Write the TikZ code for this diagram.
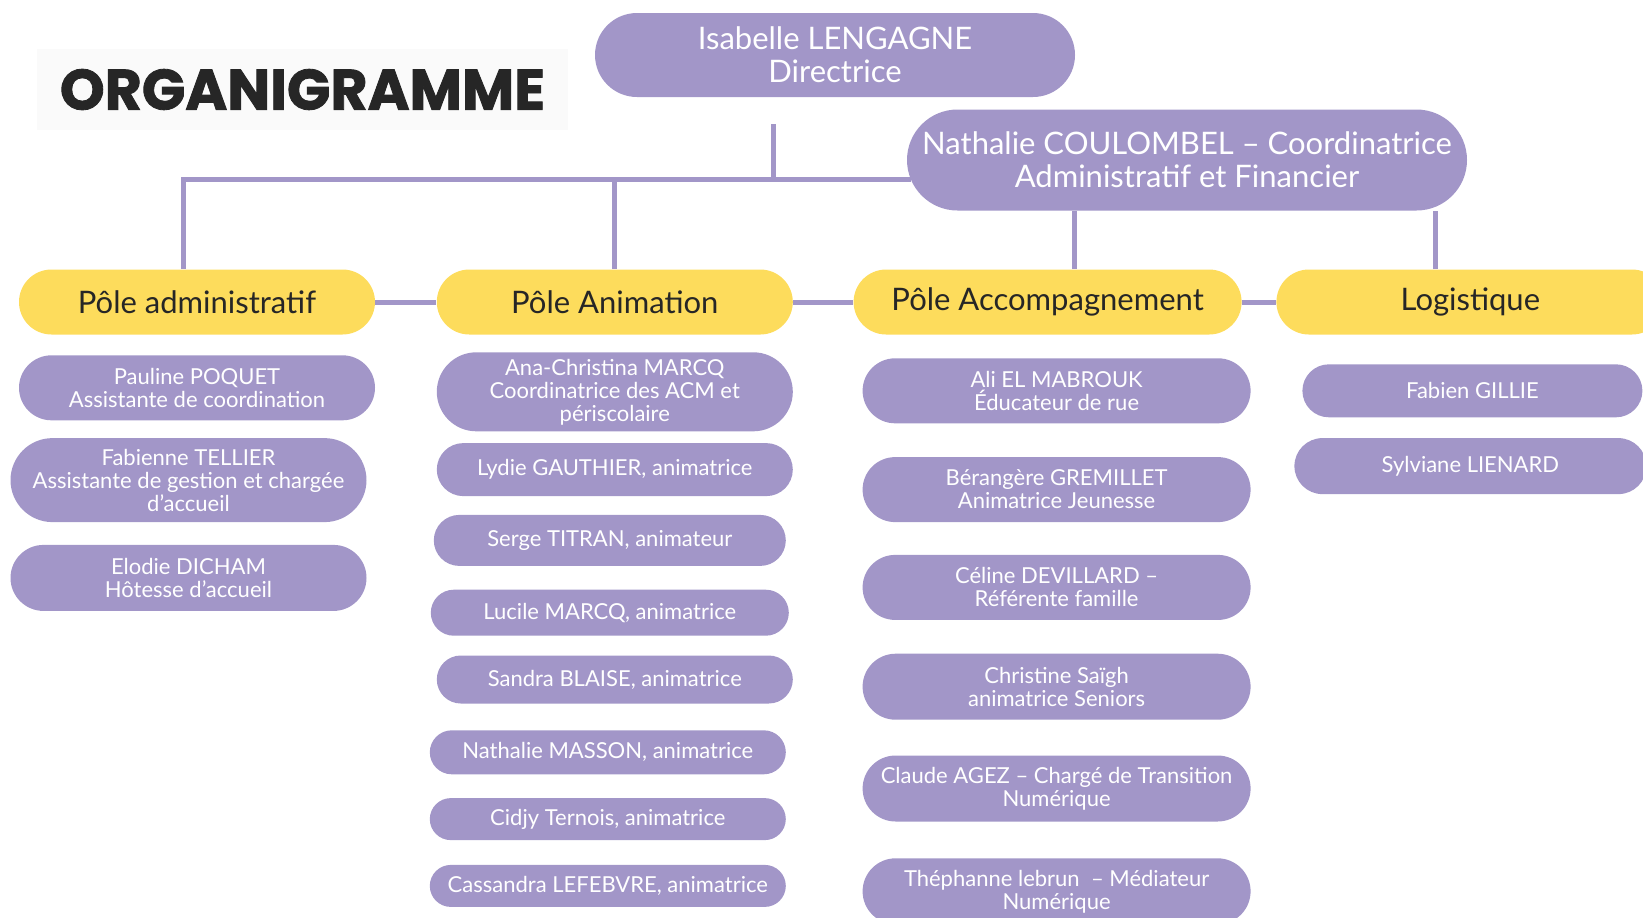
\documentclass[tikz,border=0pt]{standalone}
\usepackage{fontspec}
\setmainfont{Lato}
\newfontfamily\titlefont{Poppins}[BoldFeatures={FakeBold=1.5}]
\usepackage{xcolor}
\usetikzlibrary{positioning, shapes.misc}

\definecolor{lavande}{HTML}{A296C8}
\definecolor{jaune}{HTML}{FDDC5C}
\definecolor{encre}{HTML}{262626}

\tikzset{
  member/.style={rounded rectangle, fill=lavande, text=white, align=center, inner sep=0pt,
    minimum width=178pt, minimum height=#1, font=\fontsize{11}{11.5}\selectfont},
  member/.default=32.5pt,
  pole/.style={rounded rectangle, fill=jaune, text=encre, inner sep=0pt,
    minimum width=178pt, minimum height=32.5pt, font=\fontsize{15.5}{17}\selectfont},
  head/.style={rounded rectangle, fill=lavande, text=white, align=center, inner sep=0pt,
    font=\fontsize{15.5}{16.5}\selectfont},
  link/.style={draw=lavande, line width=2.5pt},
}

\begin{document}
\begin{tikzpicture}[x=0.5pt, y=-0.5pt]
    \useasboundingbox (0,0) rectangle (1643,917);
    \clip (0,0) rectangle (1643,917);

    \node [fill=black!2, minimum width=265.5pt, minimum height=40.5pt, text=encre,
      font=\titlefont\bfseries\fontsize{28.5}{28.5}\selectfont] (titre) at (302.5,89.5) {ORGANIGRAMME};

    \node [head, minimum width=240pt, minimum height=42pt] (isa) at (835,55) {Isabelle LENGAGNE\\Directrice};
    \node [head, minimum width=280pt, minimum height=50.5pt] (nat) at (1187,160) {Nathalie COULOMBEL – Coordinatrice\\Administratif et Financier};

    % les poles
    \node [pole] (pa) at (197,302) {Pôle administratif};
    \node [pole, right=30.5pt of pa] (pan) {Pôle Animation};
    \node [pole, minimum width=194pt, right=30pt of pan] (pac) {Pôle Accompagnement};
    \node [pole, minimum width=194pt, right=17pt of pac] (plog) {Logistique};

    % liaisons
    \coordinate (drop) at (773,124);
    \coordinate (bus) at (773,179);
    \draw [link] (drop) -- (bus);
    \draw [link] ([xshift=-7pt]pa.north) |- ([xshift=2pt]nat.west |- bus);
    \draw [link] (pan.north) -- (pan.north |- bus);
    \draw [link] ([xshift=13.5pt]pac.north) -- ([xshift=13.5pt]pac.north |- nat.south);
    \draw [link] ([xshift=-17.5pt]plog.north) -- ([xshift=-17.5pt]plog.north |- nat.south);
    \draw [link] (pa.east) -- (pan.west);
    \draw [link] (pan.east) -- (pac.west);
    \draw [link] (pac.east) -- (plog.west);

    % pole administratif
    \node [member, below=10pt of pa] (poquet) {Pauline POQUET\\Assistante de coordination};
    \node [member=42pt, below=8.5pt of poquet, xshift=-4.25pt] (tellier) {Fabienne TELLIER\\Assistante de gestion et chargée\\d’accueil};
    \node [member=33pt, below=11pt of tellier] (dicham) {Elodie DICHAM\\Hôtesse d’accueil};

    % pole animation
    \node [member=39.5pt, below=8.5pt of pan] (acmarcq) {Ana-Christina MARCQ\\Coordinatrice des ACM et\\périscolaire};
    \node [member=26.5pt, below=5.5pt of acmarcq] (gauthier) {Lydie GAUTHIER, animatrice};
    \node [member=25.5pt, minimum width=176pt, below=9pt of gauthier, xshift=-2.5pt] (titran) {Serge TITRAN, animateur};
    \node [member=23pt, minimum width=179pt, below=11.5pt of titran] (lmarcq) {Lucile MARCQ, animatrice};
    \node [member=24pt, below=9.5pt of lmarcq, xshift=2.5pt] (blaise) {Sandra BLAISE, animatrice};
    \node [member=22pt, below=13pt of blaise, xshift=-3.5pt] (masson) {Nathalie MASSON, animatrice};
    \node [member=21pt, below=11.5pt of masson] (ternois) {Cidjy Ternois, animatrice};
    \node [member=21pt, below=12pt of ternois] (lefebvre) {Cassandra LEFEBVRE, animatrice};

    % pole accompagnement
    \node [member, minimum width=194pt, below=11.5pt of pac, xshift=4.5pt] (mabrouk) {Ali EL MABROUK\\Éducateur de rue};
    \node [member, minimum width=194pt, below=16.5pt of mabrouk] (gremillet) {Bérangère GREMILLET\\Animatrice Jeunesse};
    \node [member, minimum width=194pt, below=16pt of gremillet] (devillard) {Céline DEVILLARD –\\Référente famille};
    \node [member=33pt, minimum width=194pt, below=16.5pt of devillard] (saigh) {Christine Saïgh\\animatrice Seniors};
    \node [member=33pt, minimum width=194pt, below=17.5pt of saigh] (agez) {Claude AGEZ – Chargé de Transition\\Numérique};
    \node [member=33pt, minimum width=194pt, below=18pt of agez] (lebrun) {Théphanne lebrun \ – Médiateur\\Numérique};

    % logistique
    \node [member=26.5pt, minimum width=170pt, below=14.5pt of plog, xshift=1pt] (gillie) {Fabien GILLIE};
    \node [member=28pt, minimum width=176pt, below=10pt of gillie, xshift=-1pt] (lienard) {Sylviane LIENARD};
\end{tikzpicture}
\end{document}
